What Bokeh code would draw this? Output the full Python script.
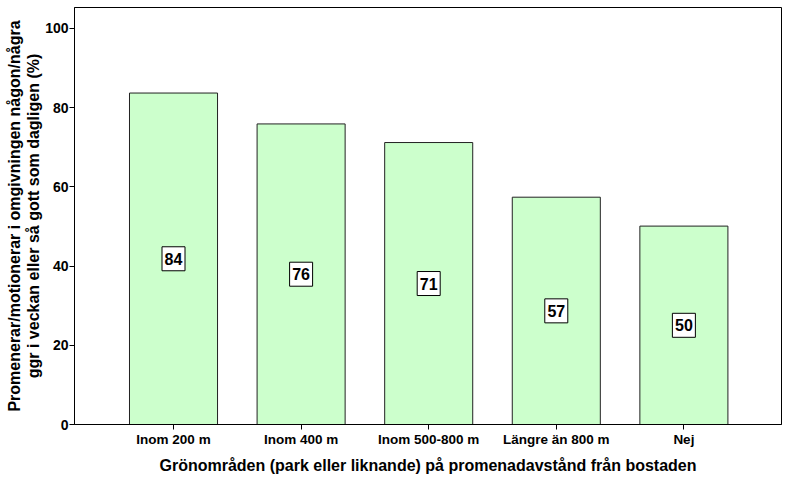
from bokeh.plotting import figure
from bokeh.models import Range1d, FixedTicker, ColumnDataSource
from bokeh.core.properties import value
from bokeh.embed import file_html
from bokeh.resources import INLINE

categories = ["Inom 200 m", "Inom 400 m", "Inom 500-800 m", "Längre än 800 m", "Nej"]
values = [83.7, 75.9, 71.2, 57.4, 50.1]
labels = ["84", "76", "71", "57", "50"]
y_ticks = [0, 20, 40, 60, 80, 100]

FONT = "Liberation Sans"
idx = list(range(len(categories)))
src = ColumnDataSource(dict(
    x=idx,
    top=values,
    mid=[v / 2 for v in values],
    lab=labels,
))

p = figure(width=793, height=481, output_backend="svg", toolbar_location=None,
           x_range=Range1d(-0.776, 4.765), y_range=Range1d(0, 105.3),
           min_border_left=74, min_border_right=12, min_border_top=7, min_border_bottom=57)

p.vbar(x="x", top="top", bottom=0, width=0.69, source=src,
       fill_color="#CCFFCC", line_color="#222222", line_width=1)
p.rect(x="x", y="mid", width=23, height=24, width_units="screen", height_units="screen",
       source=src, fill_color="white", line_color="black", line_width=1)
p.text(x="x", y="mid", text="lab", source=src, text_align="center", text_baseline="middle",
       text_font=value(FONT), text_font_size="16px", text_font_style="bold", text_color="black")

p.xgrid.visible = False
p.ygrid.visible = False
p.outline_line_color = "black"
p.outline_line_width = 1
p.background_fill_color = "white"
p.border_fill_color = "white"

p.xaxis.ticker = FixedTicker(ticks=idx)
p.xaxis.major_label_overrides = {i: c for i, c in enumerate(categories)}
p.yaxis.ticker = FixedTicker(ticks=y_ticks)

for ax in (p.xaxis, p.yaxis):
    ax.axis_line_color = "black"
    ax.major_tick_line_color = "black"
    ax.major_tick_out = 5
    ax.major_tick_in = 0
    ax.minor_tick_line_color = None
    ax.major_label_text_font = FONT
    ax.major_label_text_font_style = "bold"
    ax.major_label_text_color = "black"
    ax.axis_label_text_font = FONT
    ax.axis_label_text_font_style = "bold"
    ax.axis_label_text_color = "black"

p.xaxis.major_label_standoff = 2
p.yaxis.major_label_standoff = 1
p.xaxis.major_label_text_font_size = "13.5px"
p.yaxis.major_label_text_font_size = "14px"
p.xaxis.axis_label_text_font_size = "16px"
p.yaxis.axis_label_text_font_size = "16px"
p.yaxis.axis_label_text_line_height = 1.1
p.xaxis.axis_label = "Grönområden (park eller liknande) på promenadavstånd från bostaden"
p.yaxis.axis_label = "Promenerar/motionerar i omgivningen någon/några\nggr i veckan eller så gott som dagligen (%)"
p.xaxis.axis_label_standoff = 7
p.yaxis.axis_label_standoff = 0

open("out.html", "w").write(file_html(p, INLINE))
